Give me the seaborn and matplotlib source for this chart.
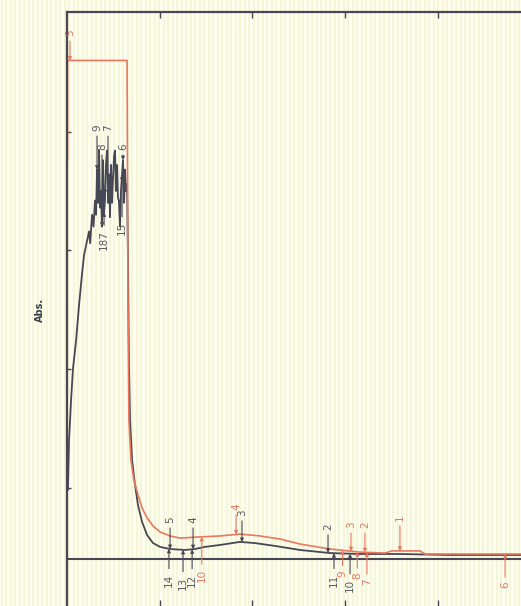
import numpy as np
import pandas as pd
import matplotlib
matplotlib.use("Agg")
import matplotlib.pyplot as plt
import seaborn as sns

# ---- data ----
black_x = [200.5, 201.1, 202.2, 203.2, 204.9, 206.5, 208.1, 209.2, 210.8, 211.9, 212.5, 213.5,
           214.3, 215.1, 215.7, 216.2, 216.8, 217.3, 217.8, 218.3, 218.9, 219.4, 219.9, 220.5,
           221.0, 221.6, 222.2, 222.7, 223.2, 223.7, 224.3, 224.8, 225.4, 225.9, 226.4, 227.0,
           227.5, 228.0, 228.6, 229.1, 229.7, 230.2, 230.8, 231.3, 231.8, 232.4, 232.9, 233.4,
           234.0, 235.1, 236.7, 238.3, 240.5, 243.2, 246.4, 250.2, 255.6, 263.6, 269.0, 274.4,
           282.5, 293.3, 301.4, 312.2, 325.7, 341.9, 358.0, 379.6, 406.6, 444.9]
black_y = [0.29, 0.50, 0.67, 0.80, 0.92, 1.07, 1.20, 1.28, 1.34, 1.38, 1.33, 1.45,
           1.40, 1.51, 1.45, 1.64, 1.50, 1.72, 1.48, 1.55, 1.40, 1.68, 1.45, 1.51,
           1.66, 1.72, 1.50, 1.62, 1.44, 1.66, 1.50, 1.60, 1.70, 1.72, 1.55, 1.66,
           1.52, 1.51, 1.40, 1.55, 1.62, 1.68, 1.50, 1.64, 1.55, 1.58, 1.26, 0.84,
           0.585, 0.417, 0.312, 0.227, 0.156, 0.101, 0.067, 0.051, 0.042, 0.038, 0.042, 0.051,
           0.059, 0.072, 0.067, 0.055, 0.038, 0.025, 0.021, 0.021, 0.017, 0.017]

red_x = [200.3, 200.3, 232.4, 232.9, 233.4, 234.5, 236.1, 238.3, 240.5, 243.2, 246.4, 250.2,
         255.6, 261.0, 271.7, 282.5, 293.3, 304.1, 314.9, 325.7, 341.9, 358.0, 371.5, 375.3,
         390.4, 393.1, 444.9]
red_y = [1.68, 2.10, 2.10, 1.09, 0.585, 0.417, 0.333, 0.270, 0.215, 0.173, 0.139, 0.114,
         0.097, 0.088, 0.093, 0.097, 0.105, 0.097, 0.084, 0.063, 0.042, 0.029, 0.025, 0.034,
         0.034, 0.021, 0.021]

# peak / valley labels
black_lab = ["9", "7", "8", "6", "15", "187", "5", "4", "3", "2", "14", "13", "12", "11", "10"]
black_lab_x = [216.2, 222.1, 218.9, 230.2, 229.7, 220.0, 255.6, 268.0, 294.4, 340.8,
               255.0, 262.6, 267.5, 344.0, 352.7]
black_lab_y = [1.815, 1.815, 1.735, 1.735, 1.394, 1.344, 0.164, 0.164, 0.194, 0.135,
               -0.088, -0.101, -0.088, -0.088, -0.110]

red_lab = ["5", "4", "3", "2", "1", "10", "9", "8", "7", "6"]
red_lab_x = [201.6, 291.2, 353.2, 360.7, 379.6, 272.7, 348.6, 356.6, 361.8, 436.3]
red_lab_y = [2.215, 0.219, 0.143, 0.143, 0.173, -0.070, -0.062, -0.072, -0.097, -0.110]

x_ticks = [250, 300, 350, 400]
y_ticks = [0.3, 0.8, 1.3, 1.8]

# ---- style ----
sns.set_theme(style="white")
plt.rcParams['font.family'] = ['DejaVu Sans']

W, H = 521, 606
fig = plt.figure(figsize=(W / 100, H / 100), dpi=100)
fig.patch.set_facecolor("#fdfdf0")

# scanned-paper stripes (decoration)
bg = fig.add_axes([0, 0, 1, 1], zorder=-5)
bg.set_xlim(0, W)
bg.set_ylim(0, H)
bg.axis("off")
for xs in np.arange(1.5, W, 4.5):
    bg.axvline(xs, color="#f3f3d0", lw=1.1)

ax = fig.add_axes([67 / W, 0, 1 - 67 / W, (H - 12) / H])
ax.set_facecolor("none")

dark = "#484755"
red = "#e9785f"
lab_dark = "#5a5a66"

df_b = pd.DataFrame({"x": black_x, "y": black_y})
df_r = pd.DataFrame({"x": red_x, "y": red_y})
sns.lineplot(data=df_b, x="x", y="y", ax=ax, color=dark, lw=1.3, sort=False, estimator=None)
sns.lineplot(data=df_r, x="x", y="y", ax=ax, color=red, lw=1.2, sort=False, estimator=None)

ax.axhline(0, color=dark, lw=1.5, zorder=1)

ax.set_xlim(200, 444.9)
ax.set_ylim(-0.198, 2.304)
ax.set_xlabel("")
ax.set_ylabel("")

for s in ["right", "bottom"]:
    ax.spines[s].set_visible(False)
for s in ["left", "top"]:
    ax.spines[s].set_color(dark)
    ax.spines[s].set_linewidth(1.6)

ax.set_xticks(x_ticks)
ax.set_yticks(y_ticks)
ax.tick_params(axis="x", which="both", direction="in", length=4, width=1, color=dark,
               top=True, bottom=True, labeltop=False, labelbottom=False)
ax.tick_params(axis="y", direction="in", length=3, width=1, color=dark, left=True, labelleft=False)


def label_peaks(labels, lx, ly, cx, cy, col, tcol):
    for t, x, y in zip(labels, lx, ly):
        tip = float(np.interp(x, cx, cy))
        ax.annotate(t, xy=(x, tip), xytext=(x, y), textcoords="data",
                    rotation=90, ha="center", va="center", fontsize=7.5, color=tcol,
                    arrowprops=dict(arrowstyle="-|>", color=col, lw=0.8,
                                    mutation_scale=5, shrinkA=1, shrinkB=0))


label_peaks(black_lab, black_lab_x, black_lab_y, black_x, black_y, dark, lab_dark)
label_peaks(red_lab, red_lab_x, red_lab_y, red_x, red_y, red, red)

fig.text(40 / W, 1 - 310 / H, "Abs.", rotation=90, ha="center", va="center",
         fontsize=7, fontweight="bold", color="#3d3d48")

fig.savefig("out.png", dpi=100, facecolor=fig.get_facecolor())
